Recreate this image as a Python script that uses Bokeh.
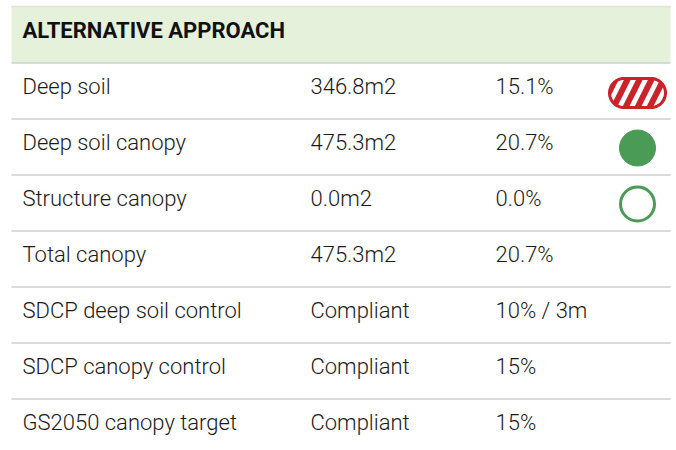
import numpy as np
from bokeh.plotting import figure
from bokeh.models import Range1d, ColumnDataSource
from bokeh.core.properties import value
from bokeh.embed import file_html
from bokeh.resources import INLINE

title = "ALTERNATIVE APPROACH"
labels = ["Deep soil", "Deep soil canopy", "Structure canopy", "Total canopy",
          "SDCP deep soil control", "SDCP canopy control", "GS2050 canopy target"]
areas = ["346.8m2", "475.3m2", "0.0m2", "475.3m2", "Compliant", "Compliant", "Compliant"]
percents = ["15.1%", "20.7%", "0.0%", "20.7%", "10% / 3m", "15%", "15%"]
icons = ["hatched", "filled", "hollow", None, None, None, None]

# layout (page pixel coordinates)
LEFT, RIGHT = 11, 670
HEAD_TOP, HEAD_BOT = 6, 62.5
ROW_H = 56
COL_X = [22, 310, 495]
ICON_X = 637
FONT = value("Roboto Light, Roboto")
TXT = "#1a1a1a"

W, H = 672, 446
p = figure(width=W, height=H, output_backend="svg", toolbar_location=None,
           x_range=Range1d(0, W), y_range=Range1d(H, 0),
           min_border=0, outline_line_color=None)
p.axis.visible = False
p.grid.visible = False
p.background_fill_color = "white"
p.border_fill_color = "white"

# header band
p.quad(left=[LEFT], right=[RIGHT], top=[HEAD_TOP], bottom=[HEAD_BOT],
       fill_color="#e5f1da", line_color=None)
p.segment(x0=[LEFT], x1=[RIGHT], y0=[HEAD_TOP], y1=[HEAD_TOP], line_color="#dfe6d8", line_width=1.5)
p.text(x=[COL_X[0]], y=[(HEAD_TOP + HEAD_BOT) / 2 - 4], text=[title], text_font=value("Roboto"),
       text_font_style="bold", text_font_size="22px", text_color="#111111",
       text_baseline="middle", text_align="left")

n = len(labels)
row_c = [HEAD_BOT + ROW_H * i + ROW_H / 2 for i in range(n)]
lines_y = [HEAD_BOT + ROW_H * i for i in range(n)]
p.segment(x0=[LEFT] * n, x1=[RIGHT] * n, y0=lines_y, y1=lines_y,
          line_color="#cfcfcf", line_width=1.5)

for col, vals in zip(COL_X, [labels, areas, percents]):
    src = ColumnDataSource(dict(x=[col] * n, y=[y - 4.5 for y in row_c], t=vals))
    p.text(x="x", y="y", text="t", source=src, text_font=FONT, text_font_size="22px",
           text_color=TXT, text_baseline="middle", text_align="left")

for ic, y in zip(icons, row_c):
    if ic == "hatched":
        w, h = 56, 29
        r = h / 2
        a1 = np.linspace(np.pi / 2, 3 * np.pi / 2, 30)
        a2 = np.linspace(-np.pi / 2, np.pi / 2, 30)
        xs = np.concatenate([ICON_X - w / 2 + r + r * np.cos(a1), ICON_X + w / 2 - r + r * np.cos(a2)])
        ys = np.concatenate([y + 2 - r * np.sin(a1), y + 2 - r * np.sin(a2)])
        p.patch(xs, ys, fill_color="white", line_color="#cc2229", line_width=3,
                hatch_pattern="/", hatch_color="#cc2229", hatch_scale=24, hatch_weight=6)
    elif ic == "filled":
        p.scatter(x=[ICON_X], y=[y + 1], size=36, fill_color="#4a9b55", line_color="#4a9b55")
    elif ic == "hollow":
        p.scatter(x=[ICON_X], y=[y + 1], size=34, fill_color="white", line_color="#4a9b55",
                  line_width=3)

open("out.html", "w").write(file_html(p, INLINE))
